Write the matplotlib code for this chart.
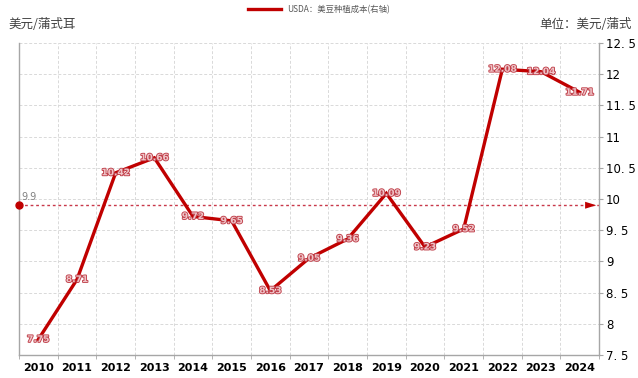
import matplotlib.pyplot as plt
import matplotlib.patheffects as pe
from matplotlib.ticker import FixedLocator, FuncFormatter

plt.rcParams['font.family'] = ['Noto Sans CJK SC', 'DejaVu Sans']

years = ["2010", "2011", "2012", "2013", "2014", "2015", "2016", "2017",
         "2018", "2019", "2020", "2021", "2022", "2023", "2024"]
cost = [7.75, 8.71, 10.42, 10.66, 9.72, 9.65, 8.53, 9.05,
        9.36, 10.09, 9.23, 9.52, 12.08, 12.04, 11.71]
ref_level = 9.9
yticks = [7.5, 8, 8.5, 9, 9.5, 10, 10.5, 11, 11.5, 12, 12.5]

red = "#c00000"
grid_c = "#d9d9d9"
spine_c = "#a6a6a6"

fig = plt.figure(figsize=(6.38, 3.78), dpi=100)
ax = fig.add_axes([19 / 638, 23 / 378, 580 / 638, 312 / 378])

x = list(range(len(years)))
ax.plot(x, cost, color=red, lw=2.4, solid_joinstyle="miter", zorder=3,
        label="USDA：美豆种植成本(右轴)")

# value labels
for xi, v in zip(x, cost):
    ax.text(xi, v, f"{v:.2f}", ha="center", va="center",
            fontsize=6.5, color="#efc4c8", fontweight="bold", zorder=4,
            family="DejaVu Sans",
            path_effects=[pe.withStroke(linewidth=1.3, foreground="#c0404a")])

# reference line at 9.9
ax.plot([-0.5, 14.5], [ref_level, ref_level], color="#c8384a", lw=1,
        ls=(0, (2, 2)), zorder=2, clip_on=False)
ax.plot([-0.5], [ref_level], "o", color=red, ms=5, clip_on=False, zorder=5)
ax.annotate("", xy=(14.5, ref_level), xytext=(14.15, ref_level),
            arrowprops=dict(arrowstyle="-|>,head_length=0.8,head_width=0.25",
                            color=red, lw=0), zorder=5)
ax.text(-0.5 + 0.05, ref_level + 0.05, "9.9", fontsize=7, color="#808080",
        ha="left", va="bottom", family="DejaVu Sans")

ax.set_xlim(-0.5, 14.5)
ax.set_ylim(7.5, 12.5)

# grid on category boundaries and y ticks
ax.xaxis.set_major_locator(FixedLocator(x))
ax.xaxis.set_minor_locator(FixedLocator([i - 0.5 for i in range(len(years) + 1)]))
ax.set_xticklabels(years, fontsize=8, fontweight="bold", family="DejaVu Sans")
ax.tick_params(axis="x", which="major", length=0, pad=6)
ax.tick_params(axis="x", which="minor", length=3, color=spine_c)
ax.grid(True, which="minor", axis="x", color=grid_c, ls=(0, (3, 2)), lw=0.7)

ax.yaxis.set_major_locator(FixedLocator(yticks))
ax.yaxis.tick_right()
ax.yaxis.set_major_formatter(FuncFormatter(lambda v, p: f"{v:g}".replace(".", ". ")))
ax.tick_params(axis="y", length=3, color=spine_c, labelsize=8.5, pad=2)
for lbl in ax.get_yticklabels():
    lbl.set_family("DejaVu Sans")
ax.grid(True, which="major", axis="y", color=grid_c, ls=(0, (3, 2)), lw=0.7)

ax.spines["top"].set_visible(False)
for s in ("left", "right", "bottom"):
    ax.spines[s].set_color(spine_c)
    ax.spines[s].set_linewidth(1)

fig.legend(loc="upper center", bbox_to_anchor=(0.5, 1.0), frameon=False,
           fontsize=6, labelcolor="#595959", handlelength=4, borderaxespad=0.2)
fig.text(8 / 638, 1 - 25 / 378, "美元/蒲式耳", fontsize=9, color="#404040",
         ha="left", va="center")
fig.text(632 / 638, 1 - 25 / 378, "单位：美元/蒲式", fontsize=9, color="#404040",
         ha="right", va="center")

fig.savefig("out.png", dpi=100)
